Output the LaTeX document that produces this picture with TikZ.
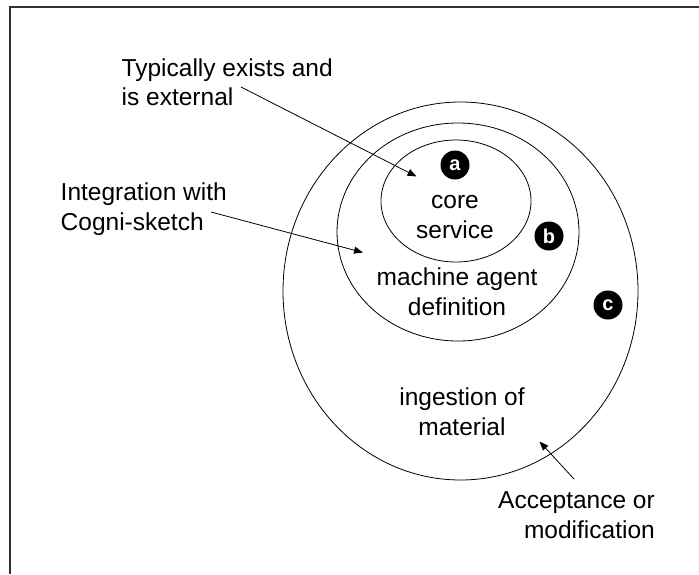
\documentclass[tikz,border=0pt]{standalone}
\usepackage{fontspec}
\setmainfont{Liberation Sans}
\usetikzlibrary{shapes.geometric,arrows.meta}
\begin{document}
\begin{tikzpicture}[x=1pt,y=-1pt,
  ring/.style={draw=black, line width=0.8pt, ellipse, inner sep=0pt},
  txt/.style={font=\fontsize{24.5}{29.5}\selectfont, inner sep=0pt},
  badge/.style={circle, fill=black, text=white, inner sep=0pt,
                minimum size=29pt, font=\fontsize{20}{20}\selectfont\bfseries},
  pointer/.style={line width=0.8pt, -{Triangle[length=9pt,width=7pt]}},
  frameline/.style={line width=1.3pt, draw=black!80}]
\useasboundingbox (0,0) rectangle (699,574);

% page frame (top and left edges)
\draw[frameline] (10,574) -- (10,7) -- (699,7);

% nested regions
\node[ring, minimum width=355pt, minimum height=378pt] (outer)  at (460.5,291) {};
\node[ring, minimum width=242pt, minimum height=218pt] (middle) at (458,232) {};
\node[ring, minimum width=150pt, minimum height=122pt] (inner)  at (456,201) {};

% region labels
\node[txt, anchor=base] (core)    at (455,208) {core};
\node[txt, anchor=base] (service) at (455,238) {service};
\node[txt, anchor=base] (mach)    at (457,285) {machine agent};
\node[txt, anchor=base] (defn)    at (457,315) {definition};
\node[txt, anchor=base] (ingest)  at (462,405) {ingestion of};
\node[txt, anchor=base] (matl)    at (462,435) {material};

% badges
\node[badge] (ba) at (455,165) {a};
\node[badge] (bb) at (549,236) {b};
\node[badge] (bc) at (608,305) {c};

% annotations
\node[txt, anchor=base west] (typ)   at (121.5,76)  {Typically exists and};
\node[txt, anchor=base west] (ext)   at (121.5,105.5) {is external};
\node[txt, anchor=base west] (integ) at (60.5,200)  {Integration with};
\node[txt, anchor=base west] (cogni) at (60.5,230)  {Cogni-sketch};
\node[txt, anchor=base east] (accept) at (655,508)  {Acceptance or};
\node[txt, anchor=base east] (modif)  at (655,538)  {modification};

% connector ends
\coordinate (extTail)   at (241,87);
\coordinate (extHead)   at (416.5,176.5);
\coordinate (cogTail)   at (211,212);
\coordinate (cogHead)   at (363,252.5);
\coordinate (accTail)   at (574,479);
\coordinate (accHead)   at (539.5,441.5);

\draw[pointer] (extTail) -- (extHead);
\draw[pointer] (cogTail) -- (cogHead);
\draw[pointer] (accTail) -- (accHead);
\end{tikzpicture}
\end{document}
